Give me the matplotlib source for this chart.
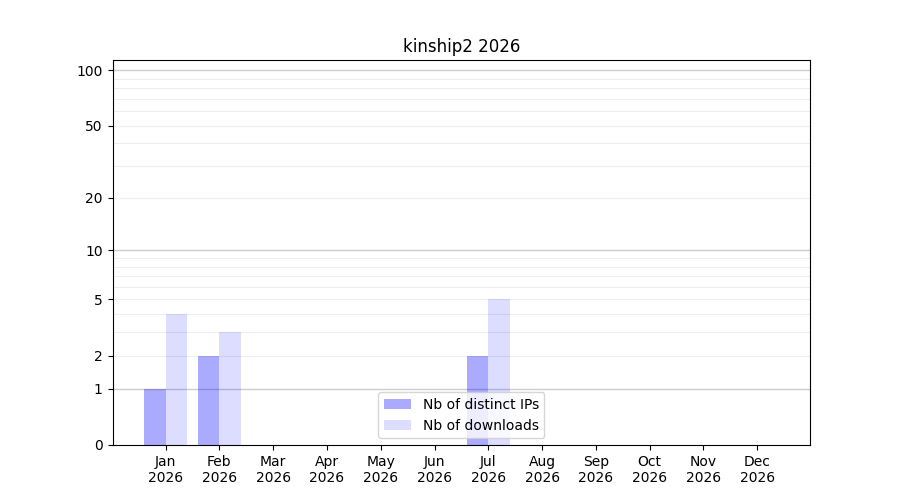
import numpy as np
import matplotlib
matplotlib.use("Agg")
import matplotlib.pyplot as plt

months = ["Jan", "Feb", "Mar", "Apr", "May", "Jun",
          "Jul", "Aug", "Sep", "Oct", "Nov", "Dec"]
year = 2026
distinct_ips = [1, 2, 0, 0, 0, 0, 2, 0, 0, 0, 0, 0]
downloads = [4, 3, 0, 0, 0, 0, 5, 0, 0, 0, 0, 0]
yticks = [0, 1, 2, 5, 10, 20, 50, 100]


def fwd(v):
    return np.log10(np.maximum(v, 0) + 1)


def inv(v):
    return 10 ** v - 1


fig = plt.figure(figsize=(9, 5), dpi=100)
ax = fig.add_subplot(111)
x = np.arange(len(months))
ax.bar(x - 0.2, distinct_ips, width=0.4, color="b", alpha=1/3,
       label="Nb of distinct IPs", zorder=1)
ax.bar(x + 0.2, downloads, width=0.4, color="b", alpha=0.135,
       label="Nb of downloads", zorder=1)

ax.set_yscale("function", functions=(fwd, inv))
ax.set_ylim(0, 113.5)
ax.set_yticks(yticks)
ax.set_yticklabels([str(t) for t in yticks])
ax.yaxis.set_minor_locator(matplotlib.ticker.NullLocator())

# grid: strong at decades, faint in between
for dec in [1, 10, 100]:
    ax.axhline(dec, color="#cccccc", lw=1, zorder=0.5)
    if dec < 100:
        for k in range(2, 10):
            ax.axhline(dec * k, color="#eeeeee", lw=0.8, zorder=0.4)

ax.set_xticks(x)
ax.set_xticklabels([f"{m}\n{year}" for m in months])
ax.set_xlim(-0.986, 11.98)
ax.set_title(f"kinship2 {year}")
ax.legend(loc="lower center")

fig.savefig("out.png", dpi=100)
